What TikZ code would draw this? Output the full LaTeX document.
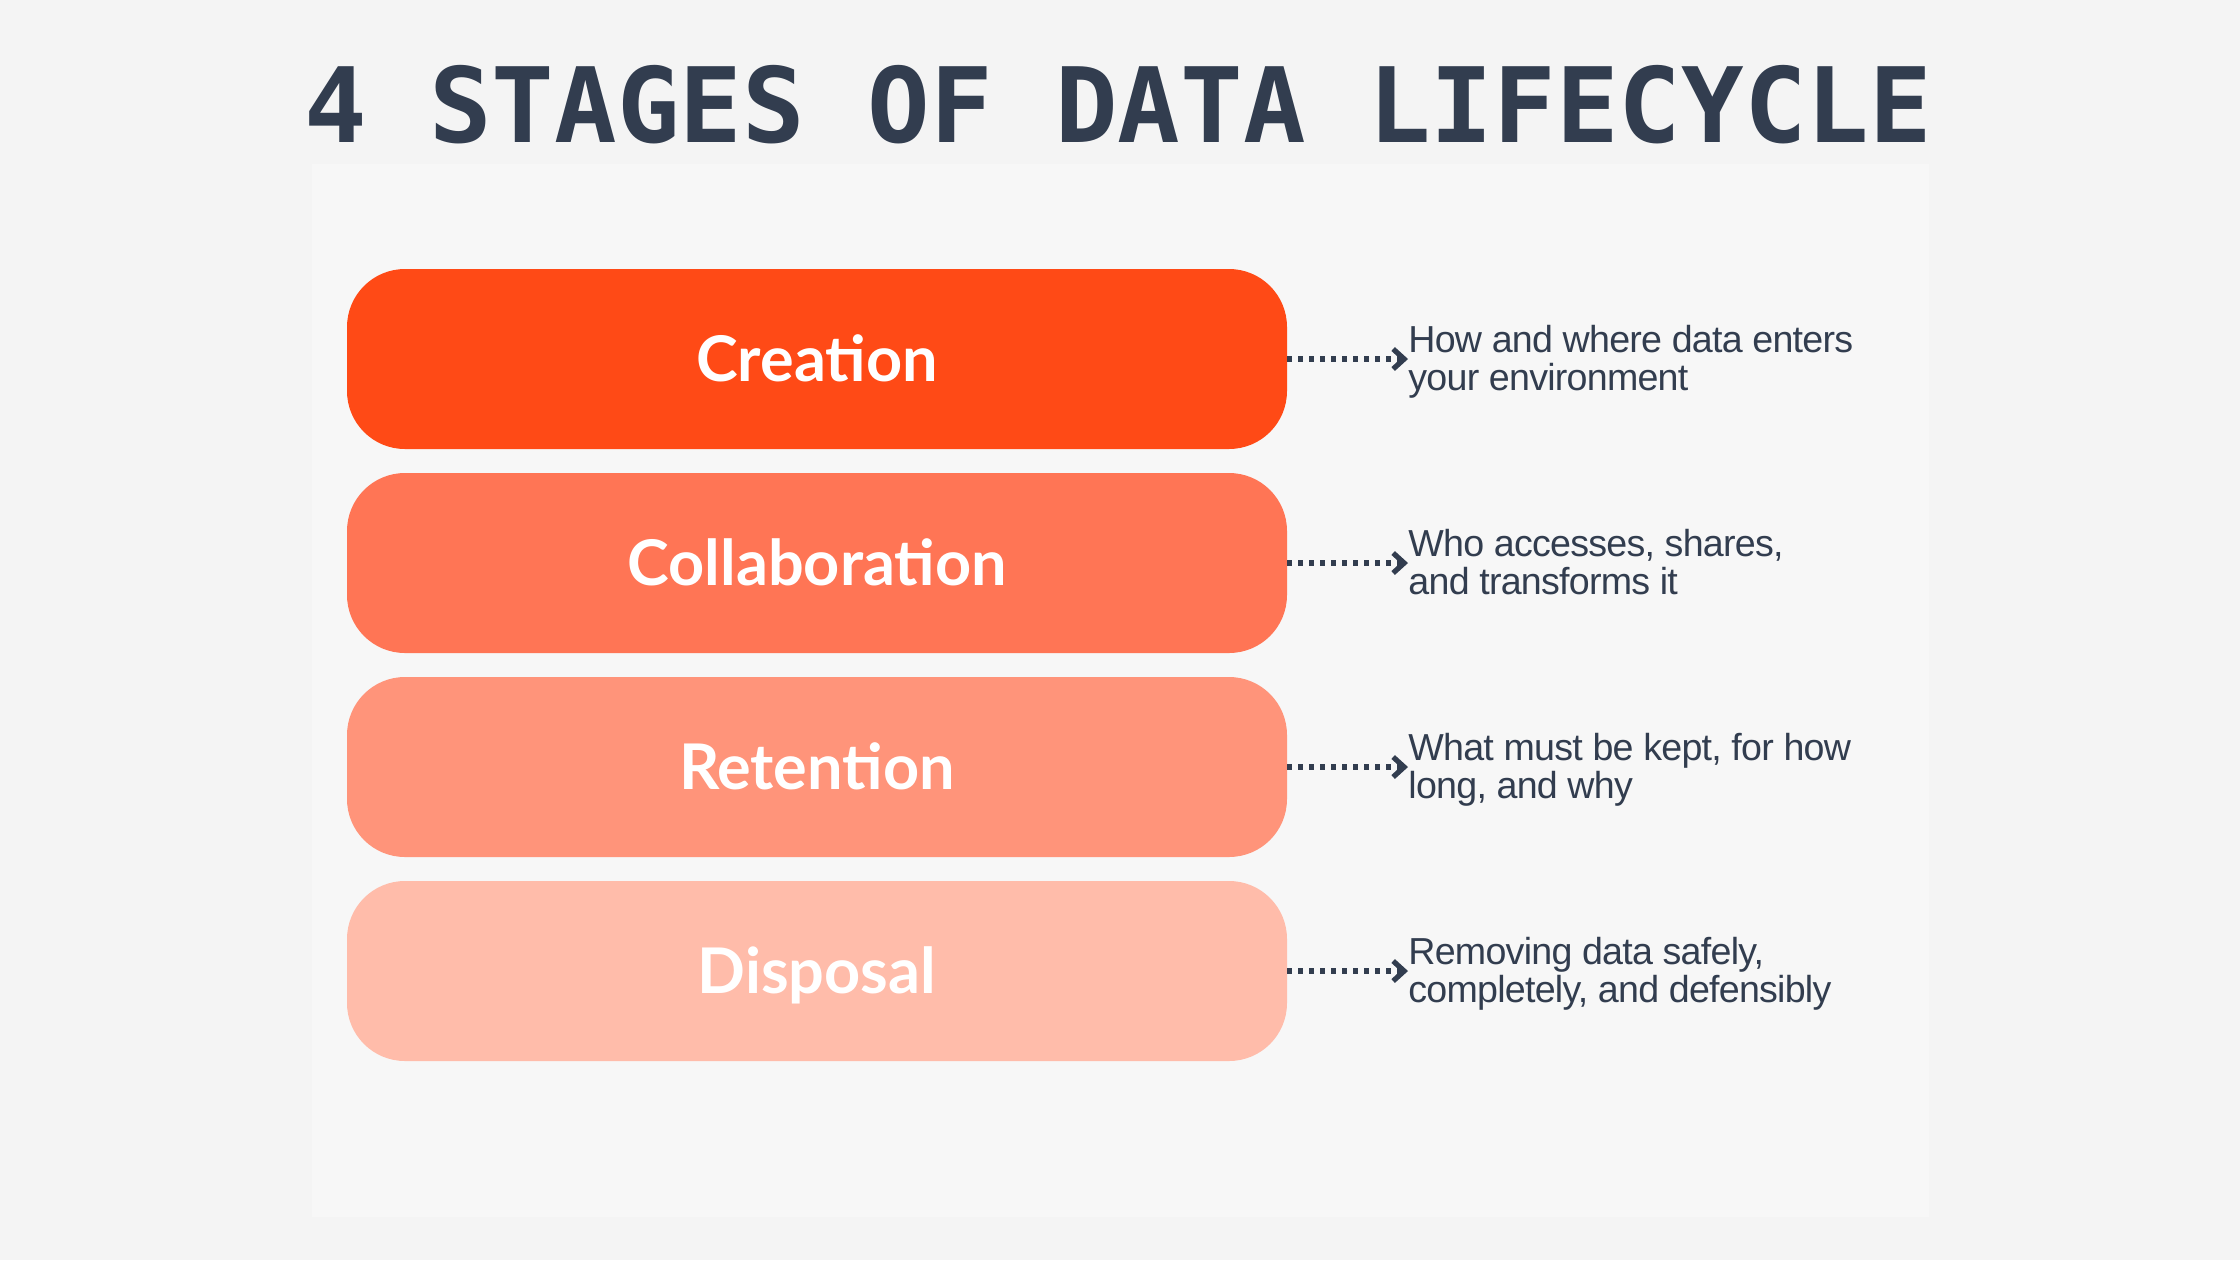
\documentclass[tikz,border=0pt]{standalone}
\usepackage{fontspec}
\usetikzlibrary{arrows.meta}
\newfontfamily\titlefont{DejaVu Sans Mono}
\newfontfamily\boxfont{Lato}
\newfontfamily\descfont[LetterSpace=-2]{Liberation Sans}
\definecolor{bgcol}{HTML}{F4F4F4}
\definecolor{panelcol}{HTML}{F7F7F7}
\definecolor{navy}{HTML}{323D4F}
\definecolor{stageA}{HTML}{FF4A16}
\definecolor{stageB}{HTML}{FF7555}
\definecolor{stageC}{HTML}{FF947A}
\definecolor{stageD}{HTML}{FFBCAA}
\tikzset{
  stagebox/.style={rectangle, rounded corners=29pt, minimum width=470pt, minimum height=90pt,
    inner sep=0pt, text=white, font=\fontsize{31.5}{36}\selectfont\boxfont\bfseries,
    text height=22.5pt, text depth=0pt},
  desc/.style={anchor=west, inner sep=0pt, align=left, text=navy,
    font=\fontsize{18.8}{19.25}\selectfont\descfont},
  link/.style={draw=navy, line width=2.6pt, dash pattern=on 2.5pt off 3pt,
    -{Straight Barb[length=5.5pt,width=10pt]}}
}
\begin{document}
\begin{tikzpicture}[x=0.5pt,y=-0.5pt]
\fill[bgcol] (0,0) rectangle (2240,1260);
\useasboundingbox (0,0) rectangle (2240,1260);
\fill[panelcol] (312,164) rectangle (1929,1217);
\node[anchor=base, text=navy, inner sep=0pt, font=\fontsize{52}{60}\selectfont\titlefont\bfseries] (title) at (1118,142) {4 STAGES OF DATA LIFECYCLE};

\node[stagebox, fill=stageA] (s1) at (817,359) {Creation};
\node[stagebox, fill=stageB] (s2) at (817,563) {Collaboration};
\node[stagebox, fill=stageC] (s3) at (817,767) {Retention};
\node[stagebox, fill=stageD] (s4) at (817,971) {Disposal};

\node[desc] (d1) at (1408,362) {How and where data enters\vphantom{Hy}\\your environment\vphantom{Hy}};
\node[desc] (d2) at (1408,566) {Who accesses, shares,\vphantom{Hy}\\and transforms it\vphantom{Hy}};
\node[desc] (d3) at (1408,770) {What must be kept, for how\vphantom{Hy}\\long, and why\vphantom{Hy}};
\node[desc] (d4) at (1408,974) {Removing data safely,\vphantom{Hy}\\completely, and defensibly\vphantom{Hy}};

\draw[link] (s1.east) -- (d1.west |- s1.east);
\draw[link] (s2.east) -- (d2.west |- s2.east);
\draw[link] (s3.east) -- (d3.west |- s3.east);
\draw[link] (s4.east) -- (d4.west |- s4.east);
\end{tikzpicture}
\end{document}
